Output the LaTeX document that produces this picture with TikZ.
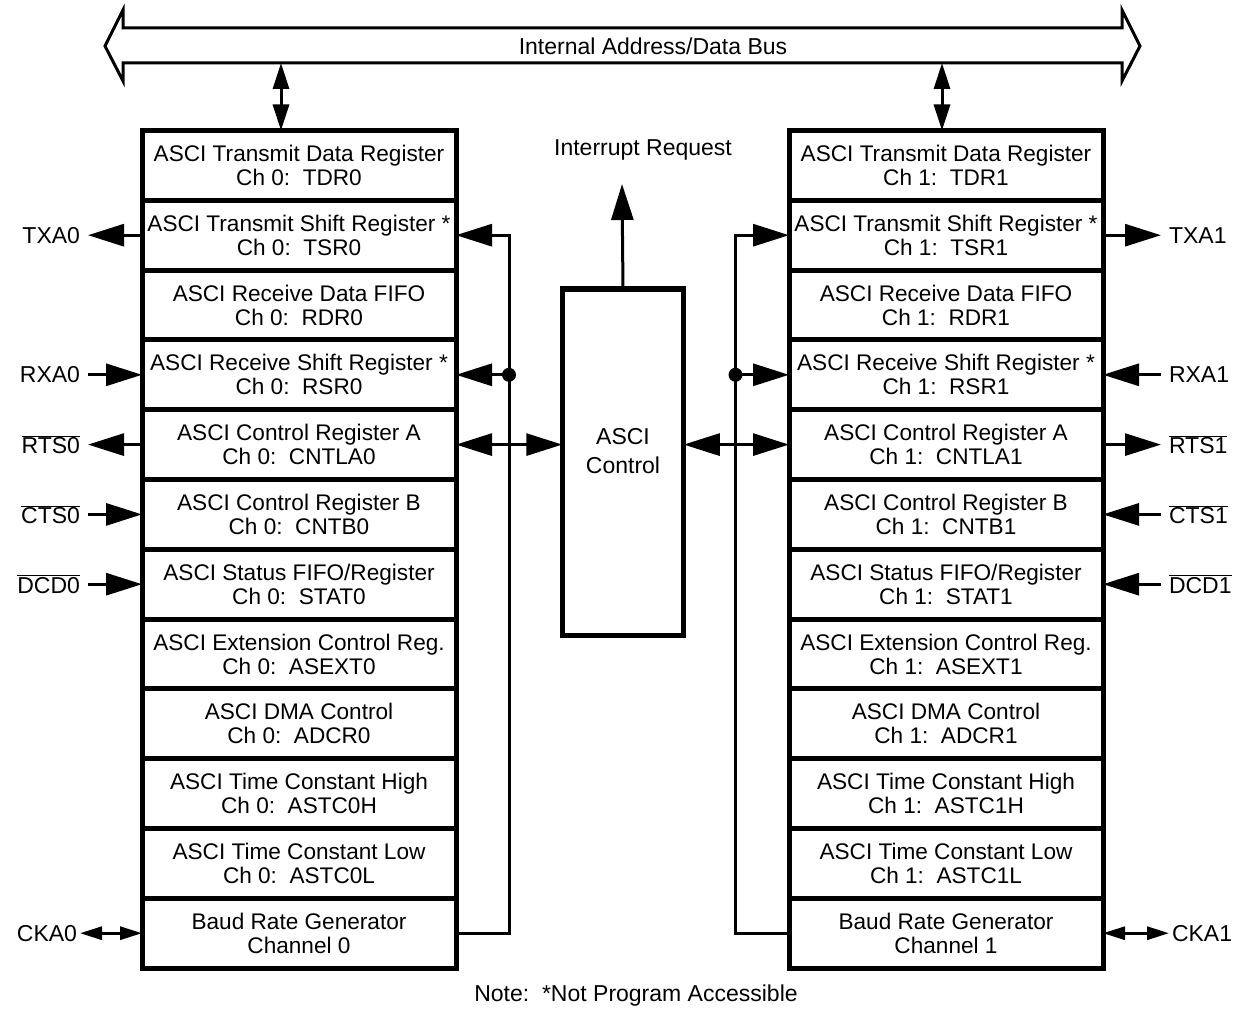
\documentclass[tikz,border=0pt]{standalone}
\usepackage{fontspec}
\setmainfont{Liberation Sans}
\usepackage{tikz}
\usetikzlibrary{arrows.meta,positioning}

% one column of ASCI registers: #1 name prefix, #2 x of centre, #3 channel
\newcommand{\chregs}[3]{%
  \node[reg] (#1tdr) at (#2,165.4) {ASCI Transmit Data Register\\Ch #3:\ \ TDR#3};
  \node[reg, below=0pt of #1tdr] (#1tsr) {ASCI Transmit Shift Register *\\Ch #3:\ \ TSR#3};
  \node[reg, below=0pt of #1tsr] (#1rdr) {ASCI Receive Data FIFO\\Ch #3:\ \ RDR#3};
  \node[reg, below=0pt of #1rdr] (#1rsr) {ASCI Receive Shift Register *\\Ch #3:\ \ RSR#3};
  \node[reg, below=0pt of #1rsr] (#1cntla) {ASCI Control Register A\\Ch #3:\ \ CNTLA#3};
  \node[reg, below=0pt of #1cntla] (#1cntb) {ASCI Control Register B\\Ch #3:\ \ CNTB#3};
  \node[reg, below=0pt of #1cntb] (#1stat) {ASCI Status FIFO/Register\\Ch #3:\ \ STAT#3};
  \node[reg, below=0pt of #1stat] (#1asext) {ASCI Extension Control Reg.\\Ch #3:\ \ ASEXT#3};
  \node[reg, below=0pt of #1asext] (#1adcr) {ASCI DMA Control\\Ch #3:\ \ ADCR#3};
  \node[reg, below=0pt of #1adcr] (#1astch) {ASCI Time Constant High\\Ch #3:\ \ ASTC#3H};
  \node[reg, below=0pt of #1astch] (#1astcl) {ASCI Time Constant Low\\Ch #3:\ \ ASTC#3L};
  \node[reg, below=0pt of #1astcl] (#1brg) {Baud Rate Generator\\Channel #3};
}

\begin{document}
\begin{tikzpicture}[x=1pt, y=-1pt,
    font=\fontsize{23}{25}\selectfont,
    reg/.style={draw, line width=5pt, outer sep=0pt, inner sep=1pt,
      minimum width=314pt, minimum height=69.8pt, align=center,
      font=\fontsize{22.6}{24}\selectfont},
    pin/.style={inner sep=8pt, outer sep=0pt},
    conn/.style={line width=3pt},
    >={Triangle[length=36pt,width=22pt]},
    small/.style={>={Triangle[length=22pt,width=13pt]}},
    mid/.style={>={Triangle[length=26pt,width=16pt]}}]
\useasboundingbox (0,0) rectangle (1247,1016);

% bus
\draw[line width=3pt] (123,28) -- (1122,28) -- (1122,10) -- (1140,46) -- (1122,81)
  -- (1122,63) -- (123,63) -- (123,81) -- (105,46) -- (123,10) -- cycle;
\node (bus) at (653,46) {Internal Address/Data Bus};
\coordinate (busbot) at (0,63);

\chregs{L}{299}{0}
\chregs{R}{946}{1}

% ASCI control
\node[draw, line width=5pt, outer sep=0pt, minimum width=121.5pt,
  minimum height=346pt, align=center] (ctrl) at (623,462) {ASCI\\[4pt]Control\\[-3pt]};
\node (irq) at (643,150) {Interrupt Request};
\coordinate (irqtip) at (622,184);
\draw[conn,->] (ctrl.north) -- (irqtip);

% bus taps
\draw[conn,mid,<->] ([xshift=-18pt]Ltdr.north) -- ([xshift=-18pt]Ltdr.north |- busbot);
\draw[conn,mid,<->] ([xshift=-4pt]Rtdr.north) -- ([xshift=-4pt]Rtdr.north |- busbot);

% baud rate clock lines
\coordinate[right=53pt of Lrsr.east] (ldot);
\coordinate[left=53.5pt of Rrsr.west] (rdot);
\draw[conn,->] (Lbrg.east) -| (ldot) |- (Ltsr.east);
\draw[conn,->] (ldot) -- (Lrsr.east);
\fill (ldot) circle (7pt);
\draw[conn,->] (Rbrg.west) -| (rdot) |- (Rtsr.west);
\draw[conn,->] (rdot) -- (Rrsr.west);
\fill (rdot) circle (7pt);
\draw[conn,<->] (Lcntla.east) -- (Lcntla.east -| ctrl.west);
\draw[conn,<->] (Rcntla.west) -- (Rcntla.west -| ctrl.east);

% channel 0 pins
\node[pin, left=54pt of Ltsr.west] (txa0) {TXA0};
\node[pin, left=54pt of Lrsr.west] (rxa0) {RXA0};
\node[pin, left=54pt of Lcntla.west] (rts0) {$\overline{\mbox{RTS0}}$};
\node[pin, left=54pt of Lcntb.west] (cts0) {$\overline{\mbox{CTS0}}$};
\node[pin, left=54pt of Lstat.west] (dcd0) {$\overline{\mbox{DCD0}}$};
\node[pin, inner sep=3pt, left=62pt of Lbrg.west] (cka0) {CKA0};
\draw[conn,->] (Ltsr.west) -- (txa0.east);
\draw[conn,->] (rxa0.east) -- (Lrsr.west);
\draw[conn,->] (Lcntla.west) -- (rts0.east);
\draw[conn,->] (cts0.east) -- (Lcntb.west);
\draw[conn,->] (dcd0.east) -- (Lstat.west);
\draw[conn,small,<->] (cka0.east) -- (Lbrg.west);

% channel 1 pins
\node[pin, right=58pt of Rtsr.east] (txa1) {TXA1};
\node[pin, right=58pt of Rrsr.east] (rxa1) {RXA1};
\node[pin, right=58pt of Rcntla.east] (rts1) {$\overline{\mbox{RTS1}}$};
\node[pin, right=58pt of Rcntb.east] (cts1) {$\overline{\mbox{CTS1}}$};
\node[pin, right=58pt of Rstat.east] (dcd1) {$\overline{\mbox{DCD1}}$};
\node[pin, inner sep=3pt, right=66pt of Rbrg.east] (cka1) {CKA1};
\draw[conn,->] (Rtsr.east) -- (txa1.west);
\draw[conn,->] (rxa1.west) -- (Rrsr.east);
\draw[conn,->] (Rcntla.east) -- (rts1.west);
\draw[conn,->] (cts1.west) -- (Rcntb.east);
\draw[conn,->] (dcd1.west) -- (Rstat.east);
\draw[conn,small,<->] (Rbrg.east) -- (cka1.west);

\node (note) at (636,996) {Note:\ \ *Not Program Accessible};
\end{tikzpicture}
\end{document}
